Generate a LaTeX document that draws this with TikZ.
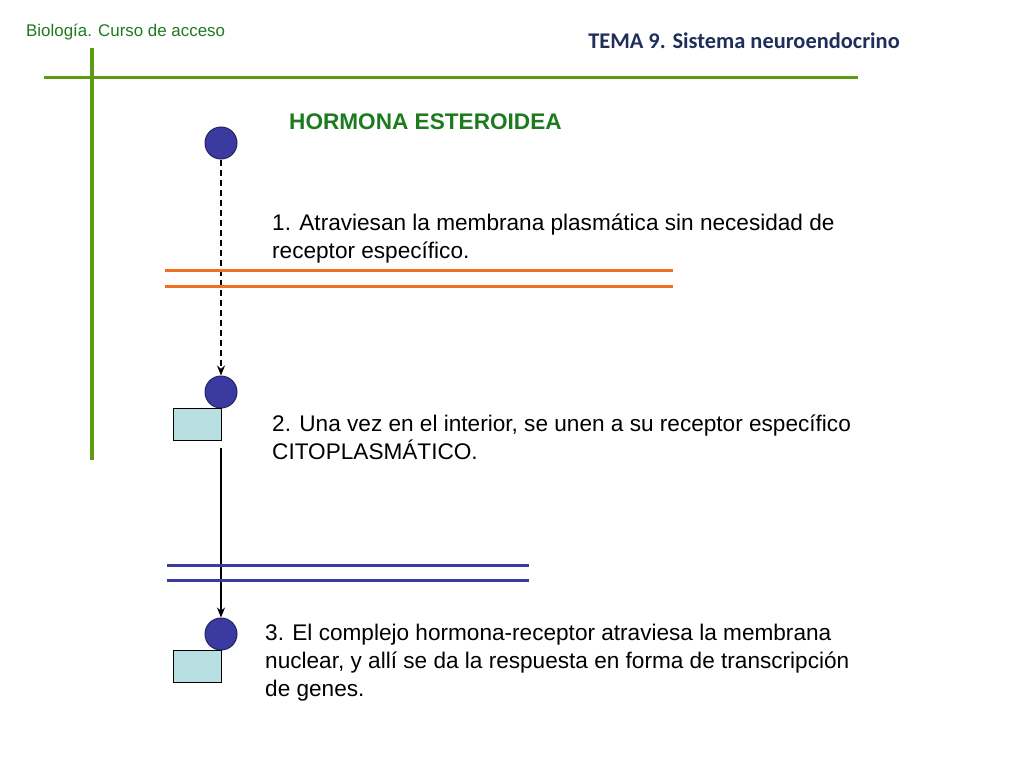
\documentclass[tikz,border=0pt]{standalone}
\usepackage{fontspec}
\setmainfont{Liberation Sans}
\newfontfamily\calib{Carlito}
\usetikzlibrary{arrows.meta}
\definecolor{gr}{HTML}{5E9A14}
\definecolor{dgr}{HTML}{1E7A1E}
\definecolor{navy}{HTML}{1F2F5A}
\definecolor{hb}{HTML}{3A3AA0}
\definecolor{orng}{HTML}{F07020}
\definecolor{lb}{HTML}{B8E0E2}
\tikzset{
 horm/.style={circle,draw=hb!60!black,fill=hb,line width=1pt,minimum size=32pt,inner sep=0pt},
 rec/.style={draw=black,fill=lb,line width=0.8pt,minimum width=48pt,minimum height=32pt,inner sep=0pt},
 txt/.style={anchor=north west,align=left,inner sep=0pt,font=\fontsize{22.6}{28}\selectfont},
 memb/.style={line width=3pt},
 tip/.style={-{Stealth[length=10pt,width=8pt]}},
}
\begin{document}
\begin{tikzpicture}[x=1pt,y=-1pt]
\useasboundingbox (0,0) rectangle (1024,768);
\node[anchor=west,text=dgr,font=\fontsize{16.9}{18}\selectfont,inner sep=0pt] (h1) at (26,32) {Biología. Curso de acceso};
\node[text=navy,font=\calib\bfseries\fontsize{22.4}{24}\selectfont,inner sep=0pt] (h2) at (744,41) {TEMA 9. Sistema neuroendocrino};
\draw[gr,line width=3pt] (44,77) -- (858,77);
\draw[gr,line width=4pt] (92,48) -- (92,460);
\node[anchor=west,text=dgr,font=\bfseries\fontsize{22.6}{24}\selectfont,inner sep=0pt] (t0) at (289,122) {HORMONA ESTEROIDEA};
\node[horm] (c1) at (221,143) {};
\node[horm] (c2) at (221,392) {};
\node[rec] (r2) at (197,424) {};
\node[horm] (c3) at (221,634) {};
\node[rec] (r3) at (197,666) {};
\draw[dash pattern=on 6pt off 4pt,line width=1.5pt,tip] (c1) -- (c2);
\coordinate (s2) at (221,448);
\draw[line width=1.5pt,tip] (s2) -- (c3);
\draw[memb,orng] (165,270) -- (673,270);
\draw[memb,orng] (165,286) -- (673,286);
\draw[memb,hb] (167,565) -- (529,565);
\draw[memb,hb] (167,580) -- (529,580);
\node[txt] (t1) at (272,214) {1. Atraviesan la membrana plasmática sin necesidad de\\receptor específico.};
\node[txt] (t2) at (272,415) {2. Una vez en el interior, se unen a su receptor específico\\CITOPLASMÁTICO.};
\node[txt] (t3) at (265,624) {3. El complejo hormona-receptor atraviesa la membrana\\nuclear, y allí se da la respuesta en forma de transcripción\\de genes.};
\end{tikzpicture}
\end{document}
